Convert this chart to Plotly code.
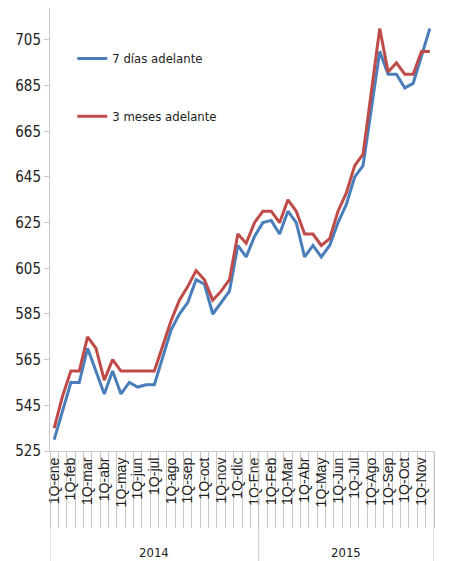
import plotly.graph_objects as go

# quincenas: etiqueta solo en la 1Q de cada mes
meses_2014 = ["ene", "feb", "mar", "abr", "may", "jun", "jul", "ago", "sep", "oct", "nov", "dic"]
meses_2015 = ["Ene", "Feb", "Mar", "Abr", "May", "Jun", "Jul", "Ago", "Sep", "Oct", "Nov"]

# grupos de años tal como aparecen en el eje (1Q-Ene cae dentro de 2014)
anios = ["2014", "2015"]
puntos_por_anio = [25, 21]

siete_dias = [530, 543, 555, 555, 570, 560, 550, 560, 550, 555, 553, 554,
              554, 566, 578, 585, 590, 600, 598, 585, 590, 595, 615, 610,
              619, 625, 626, 620, 630, 625, 610, 615, 610, 615, 625, 633,
              645, 650, 675, 700, 690, 690, 684, 686, 698, 710]

tres_meses = [535, 549, 560, 560, 575, 570, 556, 565, 560, 560, 560, 560,
              560, 571, 582, 591, 597, 604, 600, 591, 595, 600, 620, 616,
              625, 630, 630, 625, 635, 630, 620, 620, 615, 618, 630, 638,
              650, 655, 682, 710, 691, 695, 690, 690, 700, 700]

y_ticks = [525, 545, 565, 585, 605, 625, 645, 665, 685, 705]

etiquetas = []
for m in meses_2014 + meses_2015:
    etiquetas += ["1Q-" + m, "2Q-" + m]

n = len(siete_dias)
idx = list(range(n))
tick_pos = [i for i in idx if etiquetas[i].startswith("1Q")]
tick_txt = [etiquetas[i] for i in tick_pos]

AZUL = "#4a7ebb"
ROJO = "#be4b48"
GRIS = "#c8c8c8"
TEXTO = "#222222"
NARROW = "DejaVu Sans Condensed, Liberation Sans Narrow, Arial Narrow, sans-serif"

fig = go.Figure()
fig.add_trace(go.Scatter(x=idx, y=siete_dias, mode="lines", name="7 días adelante",
                         line=dict(color=AZUL, width=3), legendgroup="a"))
fig.add_trace(go.Scatter(x=idx, y=tres_meses, mode="lines", name="3 meses adelante",
                         line=dict(color=ROJO, width=3), legendgroup="b"))

W, H = 462, 553
M_T, M_B = 0, 110
plot_h = H - M_T - M_B
y_range = [525, 719]

fig.update_layout(
    width=W, height=H,
    margin=dict(l=42, r=36, t=M_T, b=M_B),
    paper_bgcolor="white", plot_bgcolor="white",
    showlegend=True,
    legend=dict(x=0.058, y=0.92, xanchor="left", yanchor="top",
                bgcolor="rgba(0,0,0,0)", tracegroupgap=38,
                font=dict(family=NARROW, size=13, color=TEXTO)),
    xaxis=dict(range=[-0.5, n - 0.5], tickmode="array", tickvals=tick_pos,
               ticktext=tick_txt, tickangle=-90, ticks="",
               tickfont=dict(family="Liberation Sans, Arial, sans-serif", size=14, color=TEXTO),
               showgrid=False, zeroline=False, showline=True, linecolor=GRIS, linewidth=1,
               minor=dict(ticks="outside", ticklen=76, tickcolor=GRIS, tickwidth=1,
                          tickmode="linear", tick0=-0.5, dtick=1, showgrid=False)),
    yaxis=dict(range=y_range, tickmode="array", tickvals=y_ticks,
               ticks="outside", ticklen=5, tickcolor=GRIS,
               tickfont=dict(family=NARROW, size=15, color=TEXTO),
               showgrid=False, zeroline=False, showline=True, linecolor=GRIS, linewidth=1),
    yaxis2=dict(range=y_range, tickmode="array", tickvals=y_ticks, overlaying="y", side="right",
                ticks="outside", ticklen=5, tickcolor=GRIS,
                tickfont=dict(family=NARROW, size=15, color=TEXTO),
                showgrid=False, zeroline=False, showline=True, linecolor=GRIS, linewidth=1),
)

# separadores y etiquetas de año bajo el eje
y_bottom = -M_B / plot_h
inicio = -0.5
bordes = [inicio]
for anio, cuenta in zip(anios, puntos_por_anio):
    fin = inicio + cuenta
    fig.add_annotation(x=(inicio + fin) / 2, y=-101 / plot_h, xref="x", yref="paper",
                       text=anio, showarrow=False, yanchor="middle",
                       font=dict(family=NARROW, size=13, color=TEXTO))
    bordes.append(fin)
    inicio = fin
for b in bordes:
    fig.add_shape(type="line", xref="x", yref="paper", x0=b, x1=b, y0=0, y1=y_bottom,
                  line=dict(color=GRIS, width=1))

fig.write_html("out.html")
